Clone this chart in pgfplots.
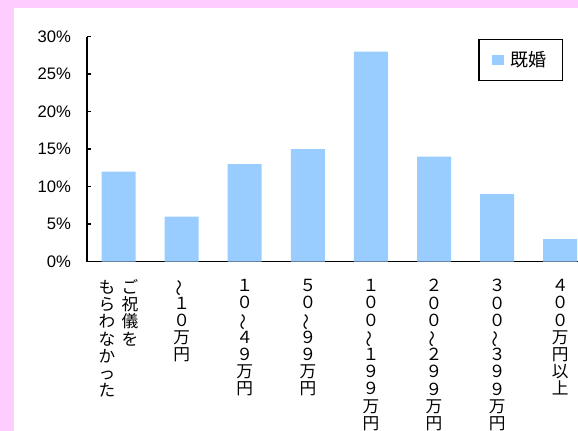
\documentclass[border=0pt]{standalone}
\usepackage{pgfplots}
\pgfplotsset{compat=1.18}
\usepackage{fontspec}
\setmainfont{Liberation Sans}
\newfontfamily\cjk{Noto Sans CJK JP}
\definecolor{barblue}{HTML}{99CCFF}
\definecolor{framepink}{HTML}{FFCCFF}
% vertical (tategaki) column: one character per row
\newcommand{\vcol}[1]{\vtop{\baselineskip=12.9pt\lineskiplimit=-20pt\lineskip=0pt\halign{\hfil##\hfil\cr#1\crcr}}}
\newcommand{\wave}{\rotatebox[origin=c]{90}{～}}
\begin{document}
\begin{tikzpicture}
\useasboundingbox (0,0) rectangle (433.5pt,323.25pt);
\clip (0,0) rectangle (433.5pt,323.25pt);
\fill[framepink] (0,0) rectangle (433.5pt,323.25pt);
\fill[white] (10.5pt,0) rectangle (433.5pt,317.6pt);
\begin{axis}[
  at={(65.25pt,127.1pt)}, anchor=south west,
  scale only axis, width=378.6pt, height=168.75pt,
  xmin=-0.5, xmax=7.5, ymin=0, ymax=30,
  axis x line*=bottom, axis y line*=left,
  axis line style={-, line width=0.9pt, black},
  tick align=inside, major tick length=3.3pt,
  xtick style={draw=none},
  ytick style={line width=0.8pt, black},
  ytick={0,5,...,30},
  /pgf/number format/assume math mode=true,
  yticklabel={\pgfmathprintnumber{\tick}\%},
  yticklabel style={font=\fontsize{12.5}{15}\selectfont, xshift=-8.5pt},
  xtick={0,...,7},
  xticklabels={
    {\vcol{も\cr ら\cr わ\cr な\cr か\cr っ\cr た}\hspace{4.75pt}\vcol{ご\cr 祝\cr 儀\cr を}},
    {\vcol{\wave\cr １\cr ０\cr 万\cr 円}},
    {\vcol{１\cr ０\cr \wave\cr ４\cr ９\cr 万\cr 円}},
    {\vcol{５\cr ０\cr \wave\cr ９\cr ９\cr 万\cr 円}},
    {\vcol{１\cr ０\cr ０\cr \wave\cr １\cr ９\cr ９\cr 万\cr 円}},
    {\vcol{２\cr ０\cr ０\cr \wave\cr ２\cr ９\cr ９\cr 万\cr 円}},
    {\vcol{３\cr ０\cr ０\cr \wave\cr ３\cr ９\cr ９\cr 万\cr 円}},
    {\vcol{４\cr ０\cr ０\cr 万\cr 円\cr 以\cr 上}}},
  xticklabel style={font=\cjk\fontsize{12.5}{12.9}\selectfont, anchor=north, inner sep=0pt, yshift=-10pt},
  ybar, bar width=25.5pt,
  legend style={at={(0.9424,0.989)}, anchor=north east, draw=black, line width=0.9pt,
    inner xsep=10pt, inner ysep=7pt, font=\cjk\fontsize{13.5}{16}\selectfont,
    /tikz/every odd column/.append style={column sep=2.5pt}},
  legend image code/.code={\fill[barblue] (0pt,-3.75pt) rectangle (8.8pt,3.75pt);},
]
\addplot[fill=barblue, draw=none] coordinates {(0,12) (1,6) (2,13) (3,15) (4,28) (5,14) (6,9) (7,3)};
\addlegendentry{既婚}
\end{axis}
\end{tikzpicture}
\end{document}
